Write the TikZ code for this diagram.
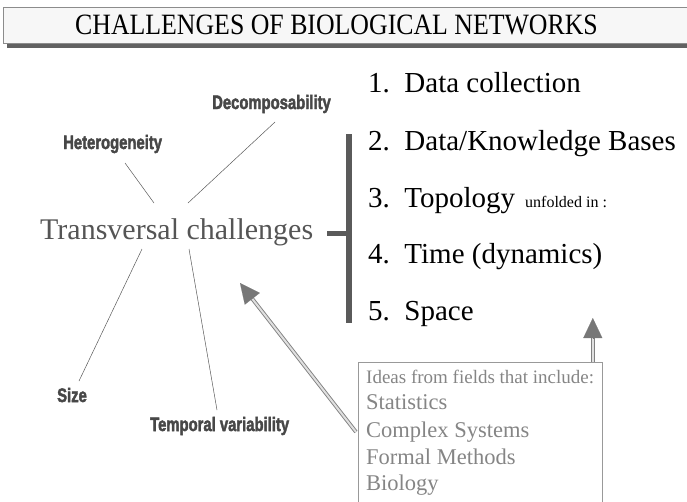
\documentclass[tikz,border=0pt]{standalone}
\usepackage{graphicx}
\usepackage{fontspec}
\setmainfont{Liberation Serif}
\newfontfamily\titlefont{Liberation Serif}[FakeStretch=0.875]
\newfontfamily\tagfont{Liberation Sans Bold}[FakeBold=2.5]
\usetikzlibrary{arrows.meta,calc}

\definecolor{taggray}{HTML}{474747}
\definecolor{transgray}{HTML}{555555}
\definecolor{bargray}{HTML}{5A5A5A}
\definecolor{fieldgray}{HTML}{858585}
\definecolor{headgray}{HTML}{777777}

\newcommand{\narrow}[2][0.76]{\scalebox{#1}[1]{#2}}

\begin{document}
\begin{tikzpicture}[x=1pt, y=-1pt,
    tag/.style={text=taggray, font=\tagfont\fontsize{19.5}{22}\selectfont, inner sep=0pt, anchor=base west},
    spoke/.style={draw=black!65, line width=0.5pt},
    item/.style={font=\rmfamily\fontsize{29}{34}\selectfont, inner sep=0pt, anchor=base west},
    field/.style={text=fieldgray, font=\rmfamily\fontsize{22.5}{27}\selectfont, inner sep=0pt, anchor=base west},
    bar/.style={draw=bargray, line width=6pt},
    shaft/.style={draw=black!50, double=black!12, double distance=2pt, line width=0.9pt},
    tip/.style={-{Triangle[length=20pt,width=19pt]}, draw=headgray, fill=headgray, line width=0.1pt}]
  \useasboundingbox (0,0) rectangle (687,501);

  % Title bar
  \fill[black!62] (7,12) rectangle (700,48);
  \draw[draw=black!45, fill=black!3] (3,7) rectangle (700,43);
  \node[font=\titlefont\fontsize{29.5}{34}\selectfont, inner sep=0pt, anchor=base] (title) at (336.5,34)
    {CHALLENGES OF BIOLOGICAL NETWORKS};

  % Transversal challenges and its spokes
  \node[text=transgray, font=\rmfamily\fontsize{30}{35}\selectfont, inner sep=0pt, anchor=base west] (trans) at (40,239) {Transversal challenges};
  \node[tag] (het) at (63,149) {\narrow{Heterogeneity}};
  \node[tag] (dec) at (212,109) {\narrow{Decomposability}};
  \node[tag] (size) at (57,402) {\narrow{Size}};
  \node[tag] (temp) at (150,431) {\narrow{Temporal variability}};

  \coordinate (het in) at (154,203);
  \coordinate (dec in) at (188,203);
  \coordinate (size in) at (142,249);
  \coordinate (temp in) at (189,249);
  \draw[spoke] (125,163) -- (het in);
  \draw[spoke] (275,122) -- (dec in);
  \draw[spoke] (79,381) -- (size in);
  \draw[spoke] (217,410) -- (temp in);

  % Bracket
  \coordinate (spine top) at (349,134);
  \coordinate (spine bottom) at (349,323);
  \coordinate (spine mid) at (349,233);
  \draw[bar] (spine top) -- (spine bottom);
  \draw[draw=bargray, line width=5pt] (spine mid) -- ++(-22,0);

  % List
  \node[item] (data) at (368,92) {1.\enspace Data collection};
  \node[item] (bases) at (368,150) {2.\enspace Data/Knowledge Bases};
  \node[item] (topo) at (368,207) {3.\enspace Topology\hspace{10pt}{\fontsize{16}{18}\selectfont unfolded in :}};
  \node[item] (time) at (368,263) {4.\enspace Time (dynamics)};
  \node[item] (space) at (368,320) {5.\enspace Space};

  % Fields box
  \node[draw=black!40, line width=0.8pt, minimum width=244, minimum height=170, anchor=north west, inner sep=0pt] (ideas) at (358,362) {};
  \node[field, font=\rmfamily\fontsize{19}{23}\selectfont] (intro) at (366,383) {Ideas from fields that include:};
  \node[field] (stat) at (366,409) {Statistics};
  \node[field] (cplx) at (366,437) {Complex Systems};
  \node[field] (formal) at (366,464) {Formal Methods};
  \node[field] (bio) at (366,490) {Biology};

  % Arrows out of the box
  \coordinate (up tip) at ($(ideas.north east)+(-10,-44)$);
  \coordinate (diag tip) at ($(trans.base west)+(200,44)$);
  \coordinate (up tail) at ($(ideas.north east)+(-10,0)$);
  \coordinate (diag tail) at ($(ideas.north west)+(-2,70)$);
  \draw[shaft, shorten >=18pt] (up tail) -- (up tip);
  \draw[tip] ($(up tip)!20pt!(up tail)$) -- (up tip);
  \draw[shaft, shorten >=18pt] (diag tail) -- (diag tip);
  \draw[tip] ($(diag tip)!20pt!(diag tail)$) -- (diag tip);
\end{tikzpicture}
\end{document}
